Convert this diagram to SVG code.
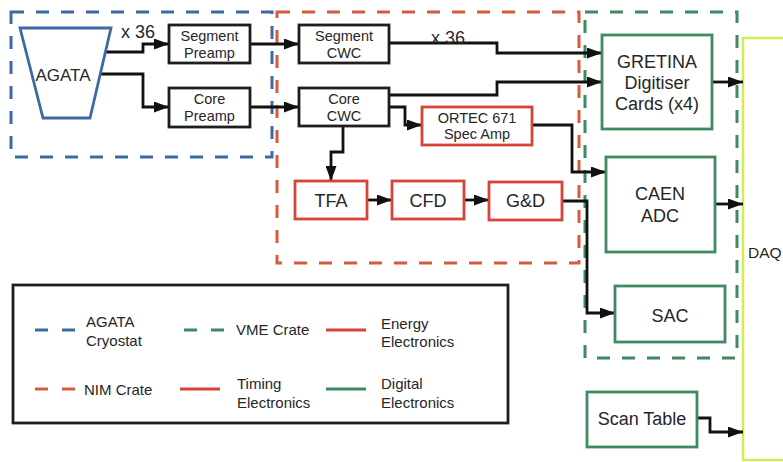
<svg xmlns="http://www.w3.org/2000/svg" width="783" height="462" viewBox="0 0 783 462">
<style>
text{font-family:"Liberation Sans",Arial,sans-serif;fill:#262626;text-anchor:middle}
.lg{text-anchor:start;font-size:15px}
.bk{fill:#fff;stroke:#1e1e1e;stroke-width:2.8}
.rd{fill:#fff;stroke:#d8433a;stroke-width:2.8}
.gn{fill:#fff;stroke:#3f8a60;stroke-width:2.8}
.c{fill:none;stroke:#111;stroke-width:2.8;marker-end:url(#ah)}
.dash{fill:none;stroke-width:3;stroke-dasharray:13 12}
.s14{font-size:14.5px}
.s18{font-size:18px}
</style>
<defs>
<marker id="ah" markerUnits="userSpaceOnUse" markerWidth="15" markerHeight="11" refX="15" refY="5.5" orient="auto">
<path d="M0,0 L15,5.5 L0,11 z" fill="#111"/>
</marker>
</defs>
<rect width="783" height="462" fill="#fff"/>
<g id="crates">
<rect class="dash" x="11" y="12" width="261" height="145" stroke="#3b6aa5"/>
<rect class="dash" x="277" y="12" width="302" height="251" stroke="#d65a3c"/>
<rect class="dash" x="585" y="12" width="152" height="346" stroke="#3f8a60"/>
</g>
<g id="daq">
<rect x="743" y="38" width="60" height="422" fill="#fff" stroke="#d4ec50" stroke-width="2.5"/>
<text x="748" y="258" style="text-anchor:start;font-size:15.5px">DAQ</text>
</g>
<g id="connectors">
<path class="c" d="M105,52 H143 V44 H169"/>
<path class="c" d="M100,74 H143 V107 H169"/>
<path class="c" d="M250,44 H299"/>
<path class="c" d="M250,107 H299"/>
<path class="c" d="M389,43 H497 V53 H602"/>
<path class="c" d="M389,95 H497 V82 H602"/>
<path class="c" d="M389,107 H405 V125 H422"/>
<path class="c" d="M532,125 H572 V172 H606"/>
<path class="c" d="M343,126 V152 H331 V181"/>
<path class="c" d="M367,200 H392"/>
<path class="c" d="M464,200 H489"/>
<path class="c" d="M562,201 H587 V313 H615"/>
<path class="c" d="M712,82 H743"/>
<path class="c" d="M715,204 H743"/>
<path class="c" d="M697,418 H710 V432 H743"/>
<text x="138" y="38" class="s18">x 36</text>
<text x="448" y="44" class="s18">x 36</text>
</g>
<g id="agata">
<path d="M20,28 H111 L90,118 H43 Z" fill="none" stroke="#3b6aa5" stroke-width="2.8"/>
<text x="63" y="81" style="font-size:17px">AGATA</text>
</g>
<g id="segment-preamp">
<rect class="bk" x="169" y="25" width="81" height="38"/>
<text x="209.5" y="41" class="s14">Segment</text>
<text x="209.5" y="58" class="s14">Preamp</text>
</g>
<g id="core-preamp">
<rect class="bk" x="169" y="88" width="81" height="39"/>
<text x="209.5" y="104" class="s14">Core</text>
<text x="209.5" y="121" class="s14">Preamp</text>
</g>
<g id="segment-cwc">
<rect class="bk" x="299" y="25" width="90" height="38"/>
<text x="344" y="41" class="s14">Segment</text>
<text x="344" y="58" class="s14">CWC</text>
</g>
<g id="core-cwc">
<rect class="bk" x="299" y="88" width="90" height="38"/>
<text x="344" y="104" class="s14">Core</text>
<text x="344" y="121" class="s14">CWC</text>
</g>
<g id="ortec">
<rect class="rd" x="422" y="107" width="110" height="38"/>
<text x="477" y="123" class="s14">ORTEC 671</text>
<text x="477" y="139" class="s14">Spec Amp</text>
</g>
<g id="tfa">
<rect class="rd" x="295" y="181" width="72" height="38"/>
<text x="331" y="207" class="s18">TFA</text>
</g>
<g id="cfd">
<rect class="rd" x="392" y="181" width="72" height="38"/>
<text x="428" y="207" class="s18">CFD</text>
</g>
<g id="gd">
<rect class="rd" x="489" y="182" width="73" height="38"/>
<text x="525.5" y="207" class="s18">G&amp;D</text>
</g>
<g id="gretina">
<rect class="gn" x="602" y="35" width="110" height="94"/>
<text x="657" y="68" class="s18">GRETINA</text>
<text x="657" y="89" class="s18">Digitiser</text>
<text x="657" y="110" class="s18">Cards (x4)</text>
</g>
<g id="caen">
<rect class="gn" x="606" y="157" width="109" height="95"/>
<text x="660" y="200" class="s18">CAEN</text>
<text x="660" y="222" class="s18">ADC</text>
</g>
<g id="sac">
<rect class="gn" x="615" y="286" width="110" height="56"/>
<text x="670" y="322" class="s18">SAC</text>
</g>
<g id="scan-table">
<rect class="gn" x="587" y="392" width="110" height="55"/>
<text x="642" y="425" class="s18">Scan Table</text>
</g>
<g id="legend">
<rect x="13" y="285" width="495" height="138" fill="none" stroke="#1e1e1e" stroke-width="2.8"/>
<path d="M35,330 H48 M62,330 H75" stroke="#3b6aa5" stroke-width="3"/>
<text class="lg" x="86" y="327">AGATA</text>
<text class="lg" x="86" y="346">Cryostat</text>
<path d="M184,330 H197 M211,330 H224" stroke="#3f8a60" stroke-width="3"/>
<text class="lg" x="236" y="335">VME Crate</text>
<path d="M326,330 H366" stroke="#d8433a" stroke-width="3"/>
<text class="lg" x="381" y="329">Energy</text>
<text class="lg" x="381" y="347">Electronics</text>
<path d="M35,389 H48 M62,389 H75" stroke="#d65a3c" stroke-width="3"/>
<text class="lg" x="84" y="395">NIM Crate</text>
<path d="M180,389 H220" stroke="#d8433a" stroke-width="3"/>
<text class="lg" x="237" y="389">Timing</text>
<text class="lg" x="237" y="408">Electronics</text>
<path d="M326,389 H366" stroke="#3f8a60" stroke-width="3"/>
<text class="lg" x="381" y="389">Digital</text>
<text class="lg" x="381" y="408">Electronics</text>
</g>
</svg>
